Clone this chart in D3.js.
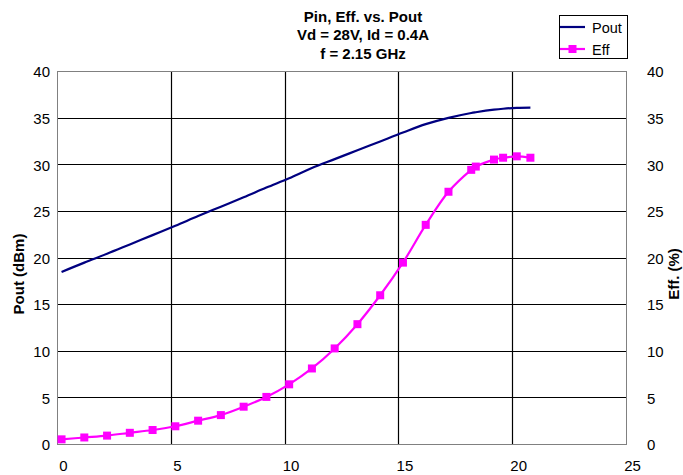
<!DOCTYPE html>
<html>
<head>
<meta charset="utf-8">
<script src="https://cdn.jsdelivr.net/npm/d3@7"></script>
<style>
  body { margin: 0; background: #fff; }
  svg { font-family: Arial, "Liberation Sans", sans-serif; }
</style>
</head>
<body>
<div class="chart"></div>
<script>
// Pin values (x axis)
var pin = [0.2, 1.2, 2.2, 3.2, 4.2, 5.2, 6.2, 7.2, 8.2, 9.2, 10.2, 11.2, 12.2, 13.2,
           14.2, 15.2, 16.2, 17.2, 18.2, 18.4, 19.2, 19.6, 20.2, 20.8];
// Pout (dBm), left axis
var pout = [18.45, 19.45, 20.4, 21.4, 22.4, 23.4, 24.45, 25.45, 26.45, 27.5, 28.5, 29.6, 30.55, 31.5,
            32.45, 33.4, 34.3, 34.98, 35.5, 35.58, 35.85, 35.95, 36.05, 36.08];
// Efficiency (%), right axis
var eff = [0.5, 0.7, 0.9, 1.2, 1.5, 1.9, 2.5, 3.1, 4.0, 5.05, 6.4, 8.1, 10.25, 12.85,
           15.95, 19.45, 23.5, 27.05, 29.4, 29.75, 30.5, 30.7, 30.85, 30.7];

var xTicks = [0, 5, 10, 15, 20, 25];
var yTicks = [0, 5, 10, 15, 20, 25, 30, 35, 40];
var titleLines = ["Pin, Eff. vs. Pout", "Vd = 28V, Id = 0.4A", "f = 2.15 GHz"];

var svgWidth = 683, svgHeight = 475;
var margin = {top: 71, right: 57, bottom: 31, left: 57};
var width = svgWidth - margin.left - margin.right;
var height = svgHeight - margin.top - margin.bottom;

var svg = d3.select(".chart")
    .append("svg")
    .attr("width", svgWidth)
    .attr("height", svgHeight);

var chart = svg.append("g")
    .attr("transform", "translate(" + margin.left + "," + margin.top + ")");

// scales
var xScale = d3.scaleLinear().domain([0, 25]).range([0, width]);
var yLeft = d3.scaleLinear().domain([0, 40]).range([height, 0]);
var yRight = d3.scaleLinear().domain([0, 40]).range([height, 0]);

// gridlines
chart.append("g")
    .selectAll("line.h")
    .data(yTicks.filter(function(d) { return d > 0 && d < 40; }))
    .enter().append("line")
    .attr("x1", 0).attr("x2", width)
    .attr("y1", function(d) { return Math.round(yLeft(d)) + 0.5; })
    .attr("y2", function(d) { return Math.round(yLeft(d)) + 0.5; })
    .attr("stroke", "#000")
    .attr("stroke-width", 1.2);

chart.append("g")
    .selectAll("line.v")
    .data(xTicks.filter(function(d) { return d > 0 && d < 25; }))
    .enter().append("line")
    .attr("y1", 0).attr("y2", height)
    .attr("x1", function(d) { return Math.round(xScale(d)) + 0.5; })
    .attr("x2", function(d) { return Math.round(xScale(d)) + 0.5; })
    .attr("stroke", "#000")
    .attr("stroke-width", 1.2);

// plot area border
chart.append("rect")
    .attr("x", 0.5).attr("y", 0.5)
    .attr("width", width).attr("height", height)
    .attr("fill", "none")
    .attr("stroke", "#808080")
    .attr("stroke-width", 1);

// axes (labels only, Excel style)
var bottomAxis = d3.axisBottom(xScale).tickValues(xTicks).tickSize(0).tickPadding(16);
var leftAxis = d3.axisLeft(yLeft).tickValues(yTicks).tickSize(0).tickPadding(7);
var rightAxis = d3.axisRight(yRight).tickValues(yTicks).tickSize(0).tickPadding(21);

function styleAxis(g) {
    g.select(".domain").remove();
    g.selectAll("text")
        .attr("fill", "#000")
        .style("font-size", "15px");
}

chart.append("g")
    .attr("class", "x-axis")
    .attr("transform", "translate(6," + height + ")")
    .call(bottomAxis)
    .call(styleAxis);

chart.append("g")
    .attr("class", "y-axis")
    .attr("transform", "translate(0,1)")
    .call(leftAxis)
    .call(styleAxis);

chart.append("g")
    .attr("class", "y-axis-right")
    .attr("transform", "translate(" + width + ",1)")
    .call(rightAxis)
    .call(styleAxis);

// data lines
var poutLine = d3.line()
    .x(function(d, i) { return xScale(pin[i]); })
    .y(function(d) { return yLeft(d); })
    .curve(d3.curveCatmullRom);

var effLine = d3.line()
    .x(function(d, i) { return xScale(pin[i]); })
    .y(function(d) { return yRight(d); })
    .curve(d3.curveCatmullRom);

chart.append("path")
    .datum(pout)
    .attr("d", poutLine)
    .attr("fill", "none")
    .attr("stroke", "#000080")
    .attr("stroke-width", 2.2);

chart.append("path")
    .datum(eff)
    .attr("d", effLine)
    .attr("fill", "none")
    .attr("stroke", "#ff00ff")
    .attr("stroke-width", 2.2);

var mk = 8;
chart.append("g")
    .selectAll("rect")
    .data(eff)
    .enter().append("rect")
    .attr("x", function(d, i) { return xScale(pin[i]) - mk / 2; })
    .attr("y", function(d) { return yRight(d) - mk / 2; })
    .attr("width", mk).attr("height", mk)
    .attr("fill", "#ff00ff");

// title
svg.append("text")
    .attr("x", 363)
    .attr("y", 21.5)
    .attr("text-anchor", "middle")
    .style("font-size", "15px")
    .style("font-weight", "bold")
    .selectAll("tspan")
    .data(titleLines)
    .enter().append("tspan")
    .attr("x", 363)
    .attr("dy", function(d, i) { return i === 0 ? 0 : 18.5; })
    .text(function(d) { return d; });

// axis titles
svg.append("text")
    .attr("transform", "translate(24,274) rotate(-90)")
    .attr("text-anchor", "middle")
    .style("font-size", "15px")
    .style("font-weight", "bold")
    .text("Pout (dBm)");

svg.append("text")
    .attr("transform", "translate(679,274) rotate(-90)")
    .attr("text-anchor", "middle")
    .style("font-size", "15px")
    .style("font-weight", "bold")
    .text("Eff. (%)");

// legend
var legend = svg.append("g").attr("transform", "translate(559,15)");
legend.append("rect")
    .attr("x", 0.5).attr("y", 0.5)
    .attr("width", 68).attr("height", 43)
    .attr("fill", "#fff")
    .attr("stroke", "#000");

legend.append("line")
    .attr("x1", 1).attr("x2", 26).attr("y1", 12).attr("y2", 12)
    .attr("stroke", "#000080").attr("stroke-width", 2.2);
legend.append("line")
    .attr("x1", 1).attr("x2", 26).attr("y1", 34).attr("y2", 34)
    .attr("stroke", "#ff00ff").attr("stroke-width", 2.2);
legend.append("rect")
    .attr("x", 13.5 - mk / 2).attr("y", 34 - mk / 2)
    .attr("width", mk).attr("height", mk)
    .attr("fill", "#ff00ff");

legend.selectAll("text.lg")
    .data(["Pout", "Eff"])
    .enter().append("text")
    .attr("x", 33)
    .attr("y", function(d, i) { return 17.5 + i * 22; })
    .style("font-size", "14.5px")
    .text(function(d) { return d; });
</script>
</body>
</html>
